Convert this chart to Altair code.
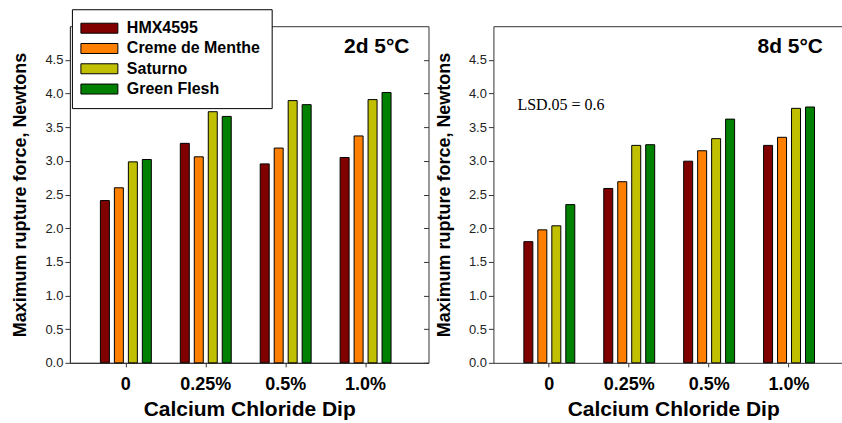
import altair as alt
import pandas as pd

categories = ["0", "0.25%", "0.5%", "1.0%"]
cultivars = ["HMX4595", "Creme de Menthe", "Saturno", "Green Flesh"]
colors = ["#800000", "#FF8000", "#C0C000", "#008000"]
y_ticks = [0.0, 0.5, 1.0, 1.5, 2.0, 2.5, 3.0, 3.5, 4.0, 4.5]

# 2 days at 5 C
d2_hmx = [2.41, 3.26, 2.955, 3.05]
d2_creme = [2.60, 3.06, 3.19, 3.37]
d2_saturno = [2.985, 3.73, 3.895, 3.91]
d2_green = [3.02, 3.66, 3.835, 4.015]

# 8 days at 5 C
d8_hmx = [1.80, 2.59, 2.995, 3.23]
d8_creme = [1.975, 2.69, 3.15, 3.35]
d8_saturno = [2.035, 3.23, 3.33, 3.78]
d8_green = [2.35, 3.24, 3.62, 3.80]

FONT = "Liberation Sans"
LINE = "#333333"


def make_df(series):
    rows = []
    for cv, vals in zip(cultivars, series):
        for cat, v in zip(categories, vals):
            rows.append({"dip": cat, "cultivar": cv, "force": v})
    return pd.DataFrame(rows)


def panel(df, label, width, pad_outer, align, title_x, with_legend, lsd, frame):
    xscale = alt.Scale(paddingInner=0.35, paddingOuter=pad_outer, align=align)
    yscale = alt.Scale(domain=[0, 5], nice=False)
    xaxis = alt.Axis(
        orient="bottom", title="Calcium Chloride Dip", titleFontSize=21,
        titleFontWeight="bold", titleColor="black", titleFont=FONT,
        titleX=title_x, titlePadding=5,
        labelFontSize=18, labelFontWeight="bold", labelColor="black",
        labelFont=FONT, labelAngle=0, labelPadding=9, tickSize=4,
        tickColor=LINE, domainColor=LINE, grid=False,
    )
    yaxis = alt.Axis(
        orient="left", values=y_ticks, format=".1f", title="Maximum rupture force, Newtons",
        titleFontSize=18, titleFontWeight="bold", titleColor="black", titleFont=FONT,
        titleX=-49, titleBaseline="middle",
        labelFontSize=13, labelColor="#222222", labelFont=FONT, labelPadding=2,
        tickSize=5, tickColor=LINE, domainColor=LINE, grid=False,
    )
    if with_legend:
        legend = alt.Legend(
            orient="none", legendX=2, legendY=-17, title=None,
            fillColor="white", strokeColor="black", padding=11,
            labelFont=FONT, labelFontSize=16, labelFontWeight="bold", labelColor="black",
            symbolType="M-3.7,-1L3.7,-1L3.7,1L-3.7,1Z", symbolSize=100,
            symbolOffset=8.5, labelOffset=19.5, rowPadding=4.3,
            symbolStrokeColor="black", symbolStrokeWidth=1, symbolOpacity=1,
        )
    else:
        legend = None
    color = alt.Color("cultivar:N", sort=cultivars,
                      scale=alt.Scale(domain=cultivars, range=colors), legend=legend)
    xoff = alt.XOffset("cultivar:N", sort=cultivars,
                       scale=alt.Scale(paddingInner=0.357, paddingOuter=0.036))

    bars = alt.Chart(df).mark_bar(stroke="black", strokeWidth=1, opacity=1).encode(
        x=alt.X("dip:N", sort=categories, scale=xscale, axis=xaxis),
        y=alt.Y("force:Q", scale=yscale, axis=yaxis),
        color=color,
        xOffset=xoff,
    )
    layers = [bars]
    if frame:
        # inward tick marks along the right border
        ghost = alt.Chart(df).mark_point(opacity=0).encode(
            x=alt.X("dip:N", sort=categories, scale=xscale, axis=xaxis),
            y=alt.Y("force:Q", scale=yscale, axis=alt.Axis(
                orient="right", offset=-5, values=y_ticks, domain=False, labels=False,
                ticks=True, tickSize=5, tickColor=LINE, title=None, grid=False)),
        )
    else:
        # top border line
        ghost = alt.Chart(df).mark_point(opacity=0).encode(
            x=alt.X("dip:N", sort=categories, scale=xscale, axis=alt.Axis(
                orient="top", labels=False, ticks=False, domain=True,
                domainColor=LINE, title=None, grid=False)),
            y=alt.Y("force:Q", scale=yscale, axis=yaxis),
        )
    layers.append(ghost)

    txt = alt.Chart(pd.DataFrame({"t": [label]})).mark_text(
        align="right", baseline="middle", fontSize=21, fontWeight="bold",
        font=FONT, color="black",
    ).encode(text="t:N", x=alt.value(width - 19), y=alt.value(21))
    layers.append(txt)

    if lsd:
        lsd_txt = alt.Chart(pd.DataFrame({"t": [lsd]})).mark_text(
            align="left", baseline="middle", fontSize=16,
            font="Liberation Serif", color="black",
        ).encode(text="t:N", x=alt.value(24), y=alt.value(79))
        layers.append(lsd_txt)

    ch = alt.layer(*layers).properties(width=width, height=337)
    if frame:
        ch = ch.properties(view=alt.ViewBackground(stroke=LINE, strokeWidth=1))
    else:
        ch = ch.properties(view=alt.ViewBackground(stroke="transparent", strokeWidth=0))
    return ch


df2 = make_df([d2_hmx, d2_creme, d2_saturno, d2_green])
df8 = make_df([d8_hmx, d8_creme, d8_saturno, d8_green])

left = panel(df2, "2d 5°C", 359, 0.41875, 0.448, 179.5, True, None, True)
right = panel(df8, "8d 5°C", 349, 0.35625, 0.526, 180, False, "LSD.05 = 0.6", False)

chart = alt.hconcat(left, right, spacing=65, bounds="flush").resolve_legend(
    color="independent"
).properties(
    padding={"left": 11, "top": 8, "right": 0, "bottom": 0},
    background="white",
).configure(font=FONT)

chart.save("out.html", embed_options={"renderer": "svg", "actions": False})
